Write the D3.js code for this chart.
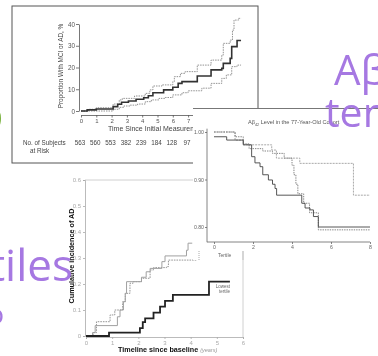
<!DOCTYPE html>
<html>
<head>
<meta charset="utf-8">
<script src="https://cdn.jsdelivr.net/npm/d3@7"></script>
<style>
  body { margin: 0; background: #fff; }
  svg { display: block; }
  text { font-family: "Liberation Sans", Arial, sans-serif; }
</style>
</head>
<body>
<div id="chart"></div>
<script>
// ---- panel 1: proportion with MCI or AD, % (with confidence band)
const p1YTicks = [0, 10, 20, 30, 40];
const p1XTicks = [0, 1, 2, 3, 4, 5, 6, 7, 8, 9, 10];
const riskYears = [0, 1, 2, 3, 4, 5, 6, 7];
const riskCounts = [563, 560, 553, 382, 239, 184, 128, 97];
const p1Main = [[0,0],[0.4,0.5],[1.0,0.9],[2.1,2.0],[2.4,3.1],[2.65,4.0],[3.1,4.6],[3.6,5.4],[4.1,6.1],[4.4,7.0],[4.7,8.4],[5.4,9.7],[6.0,10.9],[6.35,12.7],[6.6,13.5],[7.6,16.1],[8.5,18.9],[9.2,19.6],[9.3,21.9],[9.75,24.2],[9.85,29.6],[10.2,32.4],[10.46,32.4]];
const p1Upper = [[0,0],[0.5,0.8],[1.0,1.5],[2.1,3.2],[2.5,5.1],[2.7,5.8],[3.5,6.9],[4.2,8.1],[4.5,9.7],[4.7,11.5],[5.3,12.0],[6.0,13.5],[6.1,15.8],[6.5,17.3],[6.8,18.1],[7.6,21.1],[8.5,23.4],[9.2,25.7],[9.3,31.1],[9.75,32.6],[9.9,37.2],[10.0,41.8],[10.3,42.6],[10.46,42.6]];
const p1Lower = [[0,0],[2.1,0.8],[2.5,1.7],[2.8,2.3],[3.2,2.7],[3.7,3.2],[4.2,4.3],[4.6,5.1],[5.1,5.8],[5.5,6.2],[6.0,7.4],[6.6,8.4],[7.0,9.3],[7.9,10.5],[8.5,12.7],[9.2,15.0],[9.5,16.6],[9.85,20.4],[10.2,21.1],[10.46,21.1]];

// ---- panel 2: survival by Abeta42 tertile
const p2YTicks = [0.80, 0.90, 1.00];
const p2XTicks = [0, 2, 4, 6, 8];
const p2Low = [[0,0.99],[0.65,0.983],[1.5,0.973],[1.93,0.948],[2.1,0.935],[2.36,0.927],[2.5,0.91],[2.79,0.899],[3.0,0.89],[3.13,0.881],[3.21,0.867],[4.41,0.867],[4.5,0.85],[4.67,0.84],[4.92,0.836],[5.1,0.822],[5.35,0.80],[8,0.80]];
const p2Mid = [[0,1.0],[1.08,0.99],[1.5,0.975],[1.8,0.965],[2.5,0.96],[3.0,0.955],[3.6,0.945],[4.0,0.93],[4.1,0.91],[4.2,0.89],[4.3,0.87],[4.6,0.85],[4.9,0.83],[5.35,0.794],[8,0.794]];
const p2High = [[0,1.0],[1.08,0.983],[1.5,0.973],[2.96,0.962],[3.2,0.945],[4.4,0.934],[7.15,0.867],[8,0.867]];

// ---- panel 3: cumulative incidence of AD
const p3YTicks = [0, 0.1, 0.2, 0.3, 0.4, 0.5, 0.6];
const p3XTicks = [0, 1, 2, 3, 4, 5, 6];
const p3Lowest = [[0,0],[0.88,0.013],[2.06,0.03],[2.17,0.053],[2.26,0.068],[2.58,0.09],[2.83,0.113],[3.02,0.135],[3.32,0.158],[4.7,0.209],[5.5,0.209]];
const p3Solid = [[0,0],[0.25,0.013],[0.35,0.04],[1.2,0.074],[1.3,0.1],[1.43,0.132],[1.5,0.164],[1.55,0.209],[2.12,0.226],[2.3,0.247],[2.45,0.26],[2.9,0.286],[3.02,0.308],[3.84,0.33],[3.9,0.357],[4.06,0.357]];
const p3Dotted = [[0,0],[0.27,0.013],[0.4,0.055],[0.92,0.081],[1.1,0.1],[1.4,0.132],[1.5,0.164],[1.68,0.203],[1.8,0.209],[2.12,0.222],[2.45,0.254],[2.58,0.263],[3.08,0.267],[3.15,0.292],[4.22,0.292]];

const width = 378, height = 356;
const purple = "#a678e2";

const svg = d3.select("#chart").append("svg")
  .attr("width", width)
  .attr("height", height);

const defs = svg.append("defs");
defs.append("filter").attr("id", "soft")
  .append("feGaussianBlur").attr("stdDeviation", 0.35);

function styleAxis(g, color, size) {
  g.selectAll("path, line").attr("stroke", color).attr("stroke-width", 0.8);
  g.selectAll("text").attr("fill", color).style("font-size", size + "px")
    .style("font-family", "'Liberation Sans', Arial, sans-serif");
}

function stepLine(x, y) {
  return d3.line().x(d => x(d[0])).y(d => y(d[1])).curve(d3.curveStepAfter);
}

// ================= panel 3 (bottom, underneath) =================
const p3 = svg.append("g").attr("filter", "url(#soft)");
const x3 = d3.scaleLinear().domain([0, 6]).range([86, 243]);
const y3 = d3.scaleLinear().domain([0, 0.6]).range([336, 180]);

// light frame
p3.append("line").attr("x1", 85).attr("x2", x3(6)).attr("y1", y3(0.6)).attr("y2", y3(0.6))
  .attr("stroke", "#c4c4c4").attr("stroke-width", 0.8);
p3.append("line").attr("x1", x3(6)).attr("x2", x3(6)).attr("y1", y3(0.6)).attr("y2", y3(0) + 1)
  .attr("stroke", "#c4c4c4").attr("stroke-width", 0.8);

p3.append("g").attr("transform", "translate(85,0)")
  .call(d3.axisLeft(y3).tickValues(p3YTicks).tickSize(2).tickPadding(2)
    .tickFormat(d => d === 0 ? "0" : d3.format(".1f")(d)))
  .call(g => styleAxis(g, "#aaa", 6));
p3.append("g").attr("transform", `translate(0,${y3(0) + 1})`)
  .call(d3.axisBottom(x3).tickValues(p3XTicks).tickSize(2).tickPadding(2).tickFormat(d3.format("d")))
  .call(g => styleAxis(g, "#aaa", 6));

p3.append("path").datum(p3Dotted).attr("d", stepLine(x3, y3))
  .attr("fill", "none").attr("stroke", "#8a8a8a").attr("stroke-width", 0.9).attr("stroke-dasharray", "1.6,1");
p3.append("path").datum(p3Solid).attr("d", stepLine(x3, y3))
  .attr("fill", "none").attr("stroke", "#a0a0a0").attr("stroke-width", 1);
p3.append("path").datum(p3Lowest).attr("d", stepLine(x3, y3))
  .attr("fill", "none").attr("stroke", "#222").attr("stroke-width", 1.8);

const lowLast = p3Lowest[p3Lowest.length - 1];
p3.append("text").attr("x", x3(lowLast[0])).attr("y", y3(lowLast[1]) + 6)
  .attr("text-anchor", "end").style("font-size", "4.5px").attr("fill", "#666").text("Lowest");
p3.append("text").attr("x", x3(lowLast[0])).attr("y", y3(lowLast[1]) + 11)
  .attr("text-anchor", "end").style("font-size", "4.5px").attr("fill", "#666").text("tertile");

const xl3 = p3.append("text").attr("x", 118).attr("y", 352)
  .style("font-size", "7.2px").style("font-weight", "bold").attr("fill", "#111");
xl3.append("tspan").text("Timeline since baseline ");
xl3.append("tspan").attr("fill", "#999").style("font-weight", "normal")
  .style("font-style", "italic").style("font-size", "5.5px").text("(years)");

p3.append("text").attr("transform", "translate(74,256) rotate(-90)")
  .attr("text-anchor", "middle").style("font-size", "7.2px").style("font-weight", "bold")
  .attr("fill", "#111").text("Cumulative incidence of AD");

// ================= panel 1 (top left) =================
const p1 = svg.append("g").attr("filter", "url(#soft)");
p1.append("rect").attr("x", 12).attr("y", 6).attr("width", 246).attr("height", 157)
  .attr("fill", "#fff").attr("stroke", "#555").attr("stroke-width", 1);

const x1 = d3.scaleLinear().domain([0, 10]).range([81, 234]);
const y1 = d3.scaleLinear().domain([0, 40]).range([111, 24]);

p1.append("g").attr("transform", "translate(79,0)")
  .call(d3.axisLeft(y1).tickValues(p1YTicks).tickSize(3).tickPadding(1).tickSizeOuter(0))
  .call(g => styleAxis(g, "#555", 6.3));
p1.append("g").attr("transform", "translate(0,115)")
  .call(d3.axisBottom(x1).tickValues(p1XTicks).tickSize(2.5).tickPadding(1).tickSizeOuter(0))
  .call(g => styleAxis(g, "#555", 6));

p1.append("path").datum(p1Upper).attr("d", stepLine(x1, y1))
  .attr("fill", "none").attr("stroke", "#777").attr("stroke-width", 0.8).attr("stroke-dasharray", "1.5,1");
p1.append("path").datum(p1Lower).attr("d", stepLine(x1, y1))
  .attr("fill", "none").attr("stroke", "#777").attr("stroke-width", 0.8).attr("stroke-dasharray", "1.5,1");
p1.append("path").datum(p1Main).attr("d", stepLine(x1, y1))
  .attr("fill", "none").attr("stroke", "#333").attr("stroke-width", 1.6);

p1.append("text").attr("transform", "translate(63,66) rotate(-90)")
  .attr("text-anchor", "middle").style("font-size", "6.4px").attr("fill", "#444")
  .text("Proportion With MCI or AD, %");
p1.append("text").attr("x", 108).attr("y", 131)
  .style("font-size", "7px").attr("fill", "#444").text("Time Since Initial Measurement, y");

p1.append("text").attr("x", 23).attr("y", 145).style("font-size", "6.3px").attr("fill", "#444").text("No. of Subjects");
p1.append("text").attr("x", 30).attr("y", 153).style("font-size", "6.3px").attr("fill", "#444").text("at Risk");
p1.selectAll(".risk").data(riskCounts).enter().append("text")
  .attr("class", "risk")
  .attr("x", (d, i) => x1(riskYears[i]) - 1)
  .attr("y", 145)
  .attr("text-anchor", "middle")
  .style("font-size", "6.3px").attr("fill", "#444")
  .text(d => d);

// ================= panel 2 (right, on top) =================
const p2 = svg.append("g").attr("filter", "url(#soft)");
p2.append("rect").attr("x", 193).attr("y", 108).attr("width", 190).attr("height", 152).attr("fill", "#fff");
p2.append("line").attr("x1", 193).attr("x2", 378).attr("y1", 108.5).attr("y2", 108.5)
  .attr("stroke", "#777").attr("stroke-width", 1);

const x2 = d3.scaleLinear().domain([0, 8]).range([214, 370]);
const y2 = d3.scaleLinear().domain([0.8, 1.0]).range([227, 132]);

const ya2 = p2.append("g").attr("transform", "translate(207,0)")
  .call(d3.axisLeft(y2).tickValues(p2YTicks).tickSize(2).tickPadding(1).tickFormat(d3.format(".2f")))
  .call(g => styleAxis(g, "#666", 5.2));
ya2.select(".domain").remove();
p2.append("line").attr("x1", 207).attr("x2", 207).attr("y1", y2(1.007)).attr("y2", y2(0.768))
  .attr("stroke", "#666").attr("stroke-width", 0.8);
p2.append("g").attr("transform", "translate(0,242)")
  .call(d3.axisBottom(x2).tickValues(p2XTicks).tickSize(2).tickPadding(1).tickSizeOuter(0))
  .call(g => styleAxis(g, "#666", 5.2))
  .call(g => g.select(".domain").attr("d", `M207,0H${x2(8)}`));

p2.append("path").datum(p2High).attr("d", stepLine(x2, y2))
  .attr("fill", "none").attr("stroke", "#a8a8a8").attr("stroke-width", 1).attr("stroke-dasharray", "2,1");
p2.append("path").datum(p2Mid).attr("d", stepLine(x2, y2))
  .attr("fill", "none").attr("stroke", "#777").attr("stroke-width", 0.9).attr("stroke-dasharray", "1.4,1");
p2.append("path").datum(p2Low).attr("d", stepLine(x2, y2))
  .attr("fill", "none").attr("stroke", "#444").attr("stroke-width", 0.9);

const t2 = p2.append("text").attr("x", 248).attr("y", 124).style("font-size", "5.6px").attr("fill", "#555");
t2.append("tspan").text("Aβ");
t2.append("tspan").attr("dy", 1.5).style("font-size", "3.8px").text("42");
t2.append("tspan").attr("dy", -1.5).text(" Level in the 77-Year-Old Cohort");

// small legend box
p2.append("line").attr("x1", 199).attr("x2", 199).attr("y1", 251).attr("y2", 260)
  .attr("stroke", "#888").attr("stroke-width", 0.7).attr("stroke-dasharray", "1,1");
p2.append("line").attr("x1", 243).attr("x2", 243).attr("y1", 251).attr("y2", 260)
  .attr("stroke", "#888").attr("stroke-width", 0.7);
p2.append("text").attr("x", 218).attr("y", 257).style("font-size", "5px").attr("fill", "#666").text("Tertile");

// ================= slide overlay text =================
const ov = svg.append("g").style("font-family", "'Open Sans', 'Noto Sans', sans-serif");
ov.append("text").attr("x", 73).attr("y", 281).attr("text-anchor", "end")
  .style("font-size", "44px").style("font-family", "'Open Sans', sans-serif").attr("fill", purple).text("tiles");
ov.append("text").attr("x", 4).attr("y", 324).attr("text-anchor", "end")
  .style("font-size", "28px").style("font-family", "'Open Sans', sans-serif").attr("fill", purple).text("o");
const ab = ov.append("text").attr("x", 334).attr("y", 85)
  .style("font-size", "42px").style("font-family", "'Open Sans', sans-serif").attr("fill", purple);
ab.append("tspan").text("Aβ");
ab.append("tspan").attr("dy", 8).style("font-size", "26px").text("42");
ov.append("text").attr("x", 325).attr("y", 127)
  .style("font-size", "41px").style("font-family", "'Open Sans', sans-serif").attr("fill", purple).text("tertiles");
ov.append("text").attr("x", -27).attr("y", 132)
  .style("font-size", "38px").style("font-weight", "bold").style("font-family", "'Open Sans', sans-serif")
  .attr("fill", "#7cb342").text("O");
</script>
</body>
</html>
